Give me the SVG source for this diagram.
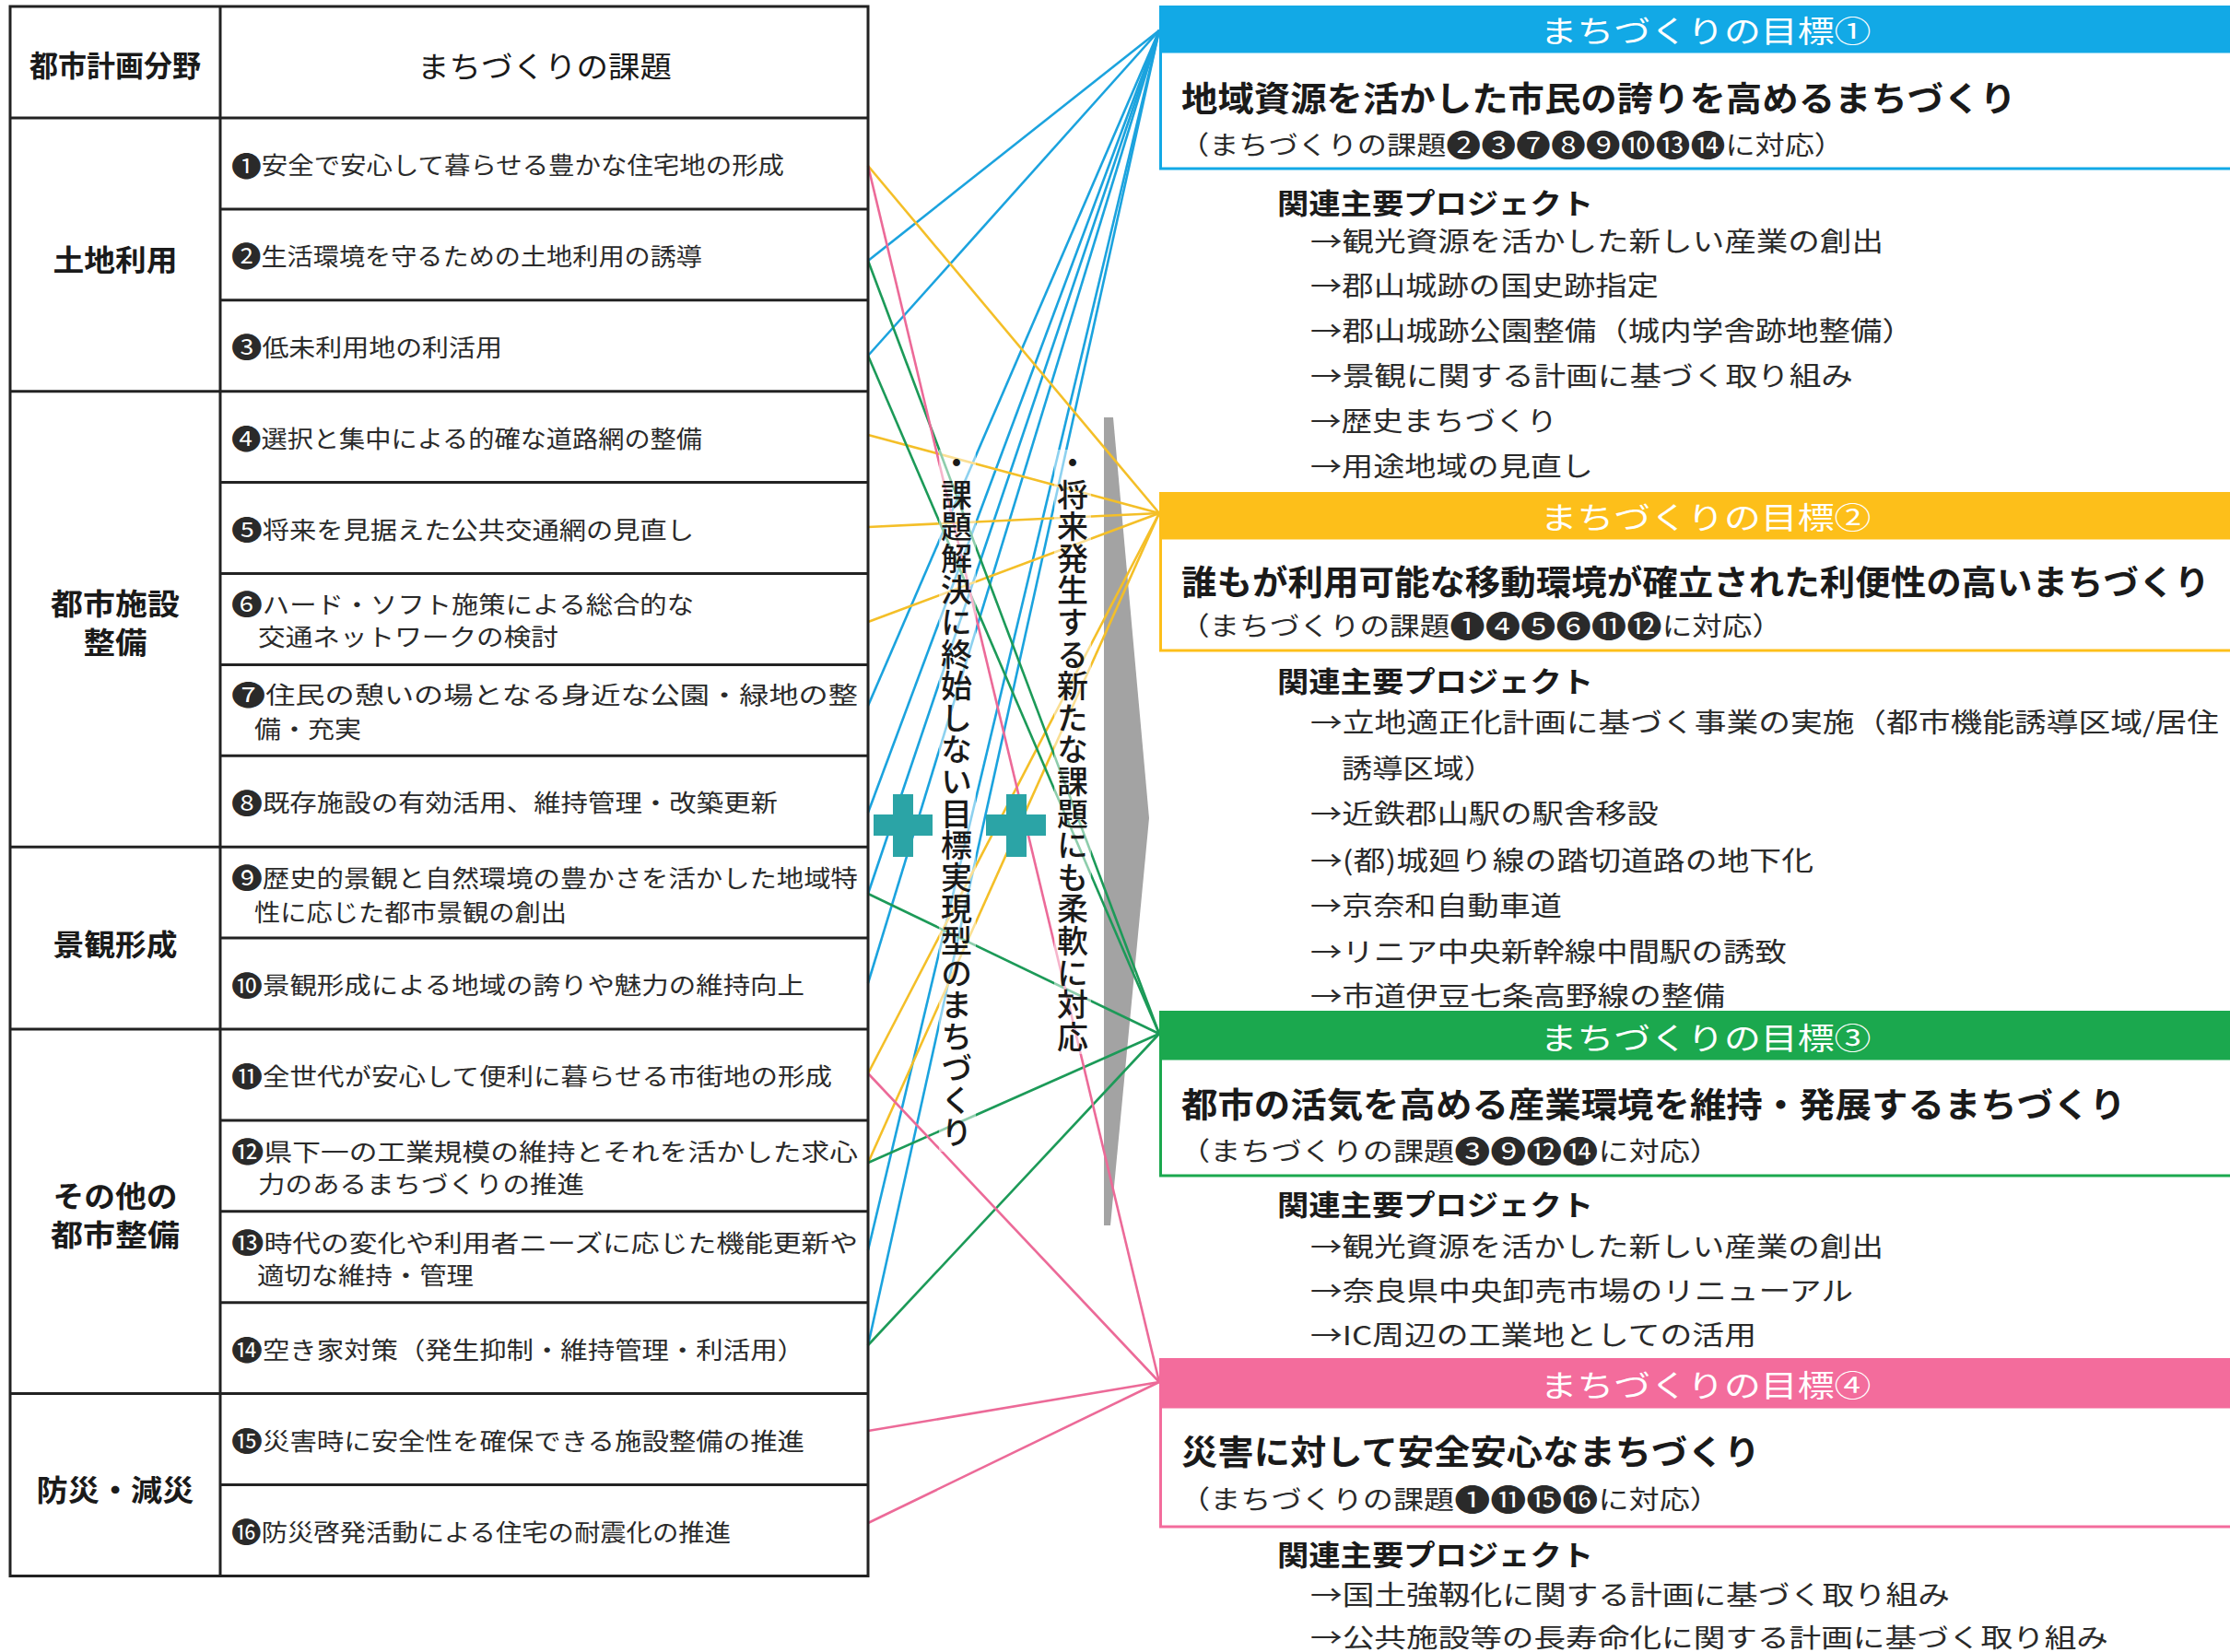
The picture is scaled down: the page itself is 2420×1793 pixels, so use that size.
<svg xmlns="http://www.w3.org/2000/svg" width="2420" height="1793" viewBox="0 0 2420 1793">
<style>
text{font-family:"Noto Sans CJK JP","Noto Sans",sans-serif;dominant-baseline:central;}
.cat{font-size:32px;font-weight:700;fill:#1a1a1a;text-anchor:middle;}
.iss{font-size:26px;fill:#2a2a2a;}
.n{font-size:30px;}
.sn{font-size:33px;}
.bt{font-size:33px;fill:#fff;text-anchor:middle;}
.tt{font-size:37px;font-weight:700;fill:#1a1a1a;}
.sub{font-size:28px;fill:#2a2a2a;}
.rel{font-size:31px;font-weight:700;fill:#1a1a1a;}
.it{font-size:29px;fill:#2a2a2a;}
.vt{font-size:34px;font-weight:500;fill:#1a1a1a;writing-mode:vertical-rl;letter-spacing:0.6px;}
.tl{stroke:#222;stroke-width:3;fill:none;}
.c1{stroke:#1ba3de;stroke-width:2.6;}
.c2{stroke:#f4bf28;stroke-width:2.6;}
.c3{stroke:#1c9a58;stroke-width:2.6;}
.c4{stroke:#ec6a98;stroke-width:2.6;}
.plus{fill:#2ba4a6;}
</style>

<!-- gray arrow -->
<polygon points="1198,453 1208,453 1247,888 1205,1330 1198,1330" fill="#a3a3a3"/>

<!-- connectors -->
<g id="connectors">
<g class="c1">
<line x1="942" y1="283" x2="1258" y2="33"/>
<line x1="942" y1="386" x2="1258" y2="33"/>
<line x1="942" y1="766" x2="1258" y2="33"/>
<line x1="942" y1="882" x2="1258" y2="33"/>
<line x1="942" y1="970" x2="1258" y2="33"/>
<line x1="942" y1="1067" x2="1258" y2="33"/>
<line x1="942" y1="1357" x2="1258" y2="33"/>
<line x1="942" y1="1460" x2="1258" y2="33"/>
</g>
<g class="c2">
<line x1="942" y1="180" x2="1258" y2="557"/>
<line x1="942" y1="472" x2="1258" y2="557"/>
<line x1="942" y1="572" x2="1258" y2="557"/>
<line x1="942" y1="675" x2="1258" y2="557"/>
<line x1="942" y1="1165" x2="1258" y2="557"/>
<line x1="942" y1="1262" x2="1258" y2="557"/>
</g>
<g class="c3">
<line x1="942" y1="283" x2="1258" y2="1122"/>
<line x1="942" y1="386" x2="1258" y2="1122"/>
<line x1="942" y1="970" x2="1258" y2="1122"/>
<line x1="942" y1="1262" x2="1258" y2="1122"/>
<line x1="942" y1="1460" x2="1258" y2="1122"/>
</g>
<g class="c4">
<line x1="942" y1="180" x2="1258" y2="1500"/>
<line x1="942" y1="1165" x2="1258" y2="1500"/>
<line x1="942" y1="1553" x2="1258" y2="1500"/>
<line x1="942" y1="1653" x2="1258" y2="1500"/>
</g>
</g>

<!-- middle texts -->
<g id="middle">
<rect x="1019" y="488" width="40" height="762" fill="#fff" opacity="0.5"/>
<rect x="1144" y="488" width="40" height="656" fill="#fff" opacity="0.5"/>
<text class="vt" x="1038" y="485">・課題解決に終始しない目標実現型のまちづくり</text>
<text class="vt" x="1164" y="485">・将来発生する新たな課題にも柔軟に対応</text>
<g class="plus">
<rect x="948" y="884" width="64" height="23"/>
<rect x="969" y="862" width="22" height="68"/>
<rect x="1070" y="884" width="65" height="23"/>
<rect x="1092" y="862" width="22" height="68"/>
</g>
</g>

<!-- table -->
<g id="table">
<rect x="11" y="7" width="931" height="1703.5" class="tl"/>
<line x1="239" y1="7" x2="239" y2="1710.5" class="tl"/>
<line x1="11" y1="128" x2="942" y2="128" class="tl"/>
<line x1="11" y1="424.7" x2="942" y2="424.7" class="tl"/>
<line x1="11" y1="919.2" x2="942" y2="919.2" class="tl"/>
<line x1="11" y1="1117" x2="942" y2="1117" class="tl"/>
<line x1="11" y1="1512.6" x2="942" y2="1512.6" class="tl"/>
<g class="tl">
<line x1="239" y1="226.9" x2="942" y2="226.9"/>
<line x1="239" y1="325.8" x2="942" y2="325.8"/>
<line x1="239" y1="523.6" x2="942" y2="523.6"/>
<line x1="239" y1="622.5" x2="942" y2="622.5"/>
<line x1="239" y1="721.4" x2="942" y2="721.4"/>
<line x1="239" y1="820.3" x2="942" y2="820.3"/>
<line x1="239" y1="1018.1" x2="942" y2="1018.1"/>
<line x1="239" y1="1215.9" x2="942" y2="1215.9"/>
<line x1="239" y1="1314.8" x2="942" y2="1314.8"/>
<line x1="239" y1="1413.7" x2="942" y2="1413.7"/>
<line x1="239" y1="1611.5" x2="942" y2="1611.5"/>
</g>
</g>

<g id="headers">
<text class="cat" x="125" y="69" textLength="186" lengthAdjust="spacingAndGlyphs">都市計画分野</text>
<text class="cat" x="591" y="70" textLength="276" lengthAdjust="spacingAndGlyphs" style="font-weight:400">まちづくりの課題</text>
</g>

<g id="categories">
<text class="cat" x="125" y="280" textLength="135" lengthAdjust="spacingAndGlyphs">土地利用</text>
<text class="cat" x="125" y="653" textLength="140" lengthAdjust="spacingAndGlyphs">都市施設</text>
<text class="cat" x="125" y="695" textLength="69" lengthAdjust="spacingAndGlyphs">整備</text>
<text class="cat" x="125" y="1023" textLength="135" lengthAdjust="spacingAndGlyphs">景観形成</text>
<text class="cat" x="125" y="1296" textLength="135" lengthAdjust="spacingAndGlyphs">その他の</text>
<text class="cat" x="125" y="1338" textLength="140" lengthAdjust="spacingAndGlyphs">都市整備</text>
<text class="cat" x="125" y="1615" textLength="171" lengthAdjust="spacingAndGlyphs">防災・減災</text>
</g>

<g id="issues">
<text class="iss" x="251" y="177.5" textLength="600" lengthAdjust="spacingAndGlyphs"><tspan class="n">❶</tspan>安全で安心して暮らせる豊かな住宅地の形成</text>
<text class="iss" x="251" y="276.4" textLength="511" lengthAdjust="spacingAndGlyphs"><tspan class="n">❷</tspan>生活環境を守るための土地利用の誘導</text>
<text class="iss" x="251" y="375.3" textLength="294" lengthAdjust="spacingAndGlyphs"><tspan class="n">❸</tspan>低未利用地の利活用</text>
<text class="iss" x="251" y="474.2" textLength="511" lengthAdjust="spacingAndGlyphs"><tspan class="n">❹</tspan>選択と集中による的確な道路網の整備</text>
<text class="iss" x="251" y="573" textLength="502" lengthAdjust="spacingAndGlyphs"><tspan class="n">❺</tspan>将来を見据えた公共交通網の見直し</text>
<text class="iss" x="251" y="654" textLength="502" lengthAdjust="spacingAndGlyphs"><tspan class="n">❻</tspan>ハード・ソフト施策による総合的な</text>
<text class="iss" x="280" y="689" textLength="326" lengthAdjust="spacingAndGlyphs">交通ネットワークの検討</text>
<text class="iss" x="251" y="752" textLength="680" lengthAdjust="spacingAndGlyphs"><tspan class="n">❼</tspan>住民の憩いの場となる身近な公園・緑地の整</text>
<text class="iss" x="276" y="789" textLength="116" lengthAdjust="spacingAndGlyphs">備・充実</text>
<text class="iss" x="251" y="869.7" textLength="593" lengthAdjust="spacingAndGlyphs"><tspan class="n">❽</tspan>既存施設の有効活用、維持管理・改築更新</text>
<text class="iss" x="251" y="951" textLength="680" lengthAdjust="spacingAndGlyphs"><tspan class="n">❾</tspan>歴史的景観と自然環境の豊かさを活かした地域特</text>
<text class="iss" x="276" y="988" textLength="339" lengthAdjust="spacingAndGlyphs">性に応じた都市景観の創出</text>
<text class="iss" x="251" y="1067.5" textLength="622" lengthAdjust="spacingAndGlyphs"><tspan class="n">❿</tspan>景観形成による地域の誇りや魅力の維持向上</text>
<text class="iss" x="251" y="1166.4" textLength="652" lengthAdjust="spacingAndGlyphs"><tspan class="n">⓫</tspan>全世代が安心して便利に暮らせる市街地の形成</text>
<text class="iss" x="251" y="1248" textLength="680" lengthAdjust="spacingAndGlyphs"><tspan class="n">⓬</tspan>県下一の工業規模の維持とそれを活かした求心</text>
<text class="iss" x="280" y="1283" textLength="354" lengthAdjust="spacingAndGlyphs">力のあるまちづくりの推進</text>
<text class="iss" x="251" y="1347" textLength="680" lengthAdjust="spacingAndGlyphs"><tspan class="n">⓭</tspan>時代の変化や利用者ニーズに応じた機能更新や</text>
<text class="iss" x="279" y="1382" textLength="235" lengthAdjust="spacingAndGlyphs">適切な維持・管理</text>
<text class="iss" x="251" y="1463" textLength="622" lengthAdjust="spacingAndGlyphs"><tspan class="n">⓮</tspan>空き家対策（発生抑制・維持管理・利活用）</text>
<text class="iss" x="251" y="1562" textLength="622" lengthAdjust="spacingAndGlyphs"><tspan class="n">⓯</tspan>災害時に安全性を確保できる施設整備の推進</text>
<text class="iss" x="251" y="1661" textLength="542" lengthAdjust="spacingAndGlyphs"><tspan class="n">⓰</tspan>防災啓発活動による住宅の耐震化の推進</text>
</g>

<g id="goal1">
<rect x="1259.5" y="56" width="1170" height="127" fill="#fff" stroke="#12a9e6" stroke-width="3"/>
<rect x="1258" y="6" width="1170" height="50" fill="#12a9e6"/>
<text class="bt" x="1851" y="32" textLength="359" lengthAdjust="spacingAndGlyphs">まちづくりの目標①</text>
<text class="tt" x="1282" y="105" textLength="906" lengthAdjust="spacingAndGlyphs">地域資源を活かした市民の誇りを高めるまちづくり</text>
<text class="sub" x="1280" y="156" textLength="721" lengthAdjust="spacingAndGlyphs">（まちづくりの課題<tspan class="sn">❷❸❼❽❾❿⓭⓮</tspan>に対応）</text>
<text class="rel" x="1386" y="218" textLength="343" lengthAdjust="spacingAndGlyphs">関連主要プロジェクト</text>
<text class="it" x="1422" y="260" textLength="622" lengthAdjust="spacingAndGlyphs">→観光資源を活かした新しい産業の創出</text>
<text class="it" x="1422" y="308" textLength="378" lengthAdjust="spacingAndGlyphs">→郡山城跡の国史跡指定</text>
<text class="it" x="1422" y="357" textLength="655" lengthAdjust="spacingAndGlyphs">→郡山城跡公園整備（城内学舎跡地整備）</text>
<text class="it" x="1422" y="406" textLength="589" lengthAdjust="spacingAndGlyphs">→景観に関する計画に基づく取り組み</text>
<text class="it" x="1422" y="455" textLength="268" lengthAdjust="spacingAndGlyphs">→歴史まちづくり</text>
<text class="it" x="1422" y="504" textLength="307" lengthAdjust="spacingAndGlyphs">→用途地域の見直し</text>
</g>

<g id="goal2">
<rect x="1259.5" y="584" width="1170" height="122" fill="#fff" stroke="#fdbf1a" stroke-width="3"/>
<rect x="1258" y="534" width="1170" height="50" fill="#fdbf1a"/>
<text class="bt" x="1851" y="560" textLength="359" lengthAdjust="spacingAndGlyphs">まちづくりの目標②</text>
<text class="tt" x="1282" y="630" textLength="1116" lengthAdjust="spacingAndGlyphs">誰もが利用可能な移動環境が確立された利便性の高いまちづくり</text>
<text class="sub" x="1280" y="678" textLength="654" lengthAdjust="spacingAndGlyphs">（まちづくりの課題<tspan class="sn">❶❹❺❻⓫⓬</tspan>に対応）</text>
<text class="rel" x="1386" y="737" textLength="343" lengthAdjust="spacingAndGlyphs">関連主要プロジェクト</text>
<text class="it" x="1422" y="782" textLength="986" lengthAdjust="spacingAndGlyphs">→立地適正化計画に基づく事業の実施（都市機能誘導区域/居住</text>
<text class="it" x="1456" y="832" textLength="166" lengthAdjust="spacingAndGlyphs">誘導区域）</text>
<text class="it" x="1422" y="881" textLength="378" lengthAdjust="spacingAndGlyphs">→近鉄郡山駅の駅舎移設</text>
<text class="it" x="1422" y="932" textLength="546" lengthAdjust="spacingAndGlyphs">→(都)城廻り線の踏切道路の地下化</text>
<text class="it" x="1422" y="981" textLength="273" lengthAdjust="spacingAndGlyphs">→京奈和自動車道</text>
<text class="it" x="1422" y="1031" textLength="517" lengthAdjust="spacingAndGlyphs">→リニア中央新幹線中間駅の誘致</text>
<text class="it" x="1422" y="1079" textLength="450" lengthAdjust="spacingAndGlyphs">→市道伊豆七条高野線の整備</text>
</g>

<g id="goal3">
<rect x="1259.5" y="1149" width="1170" height="127" fill="#fff" stroke="#1ba84e" stroke-width="3"/>
<rect x="1258" y="1097" width="1170" height="52" fill="#1ba84e"/>
<text class="bt" x="1851" y="1125" textLength="359" lengthAdjust="spacingAndGlyphs">まちづくりの目標③</text>
<text class="tt" x="1282" y="1197" textLength="1025" lengthAdjust="spacingAndGlyphs">都市の活気を高める産業環境を維持・発展するまちづくり</text>
<text class="sub" x="1280" y="1248" textLength="587" lengthAdjust="spacingAndGlyphs">（まちづくりの課題<tspan class="sn">❸❾⓬⓮</tspan>に対応）</text>
<text class="rel" x="1386" y="1305" textLength="343" lengthAdjust="spacingAndGlyphs">関連主要プロジェクト</text>
<text class="it" x="1422" y="1351" textLength="622" lengthAdjust="spacingAndGlyphs">→観光資源を活かした新しい産業の創出</text>
<text class="it" x="1422" y="1399" textLength="589" lengthAdjust="spacingAndGlyphs">→奈良県中央卸売市場のリニューアル</text>
<text class="it" x="1422" y="1447" textLength="484" lengthAdjust="spacingAndGlyphs">→IC周辺の工業地としての活用</text>
</g>

<g id="goal4">
<rect x="1259.5" y="1527" width="1170" height="130" fill="#fff" stroke="#f36c9c" stroke-width="3"/>
<rect x="1258" y="1474" width="1170" height="53" fill="#f36c9c"/>
<text class="bt" x="1851" y="1502" textLength="359" lengthAdjust="spacingAndGlyphs">まちづくりの目標④</text>
<text class="tt" x="1282" y="1574" textLength="628" lengthAdjust="spacingAndGlyphs">災害に対して安全安心なまちづくり</text>
<text class="sub" x="1280" y="1626" textLength="587" lengthAdjust="spacingAndGlyphs">（まちづくりの課題<tspan class="sn">❶⓫⓯⓰</tspan>に対応）</text>
<text class="rel" x="1386" y="1685" textLength="343" lengthAdjust="spacingAndGlyphs">関連主要プロジェクト</text>
<text class="it" x="1422" y="1729" textLength="694" lengthAdjust="spacingAndGlyphs">→国土強靱化に関する計画に基づく取り組み</text>
<text class="it" x="1422" y="1776" textLength="866" lengthAdjust="spacingAndGlyphs" style="font-size:28px">→公共施設等の長寿命化に関する計画に基づく取り組み</text>
</g>
</svg>
